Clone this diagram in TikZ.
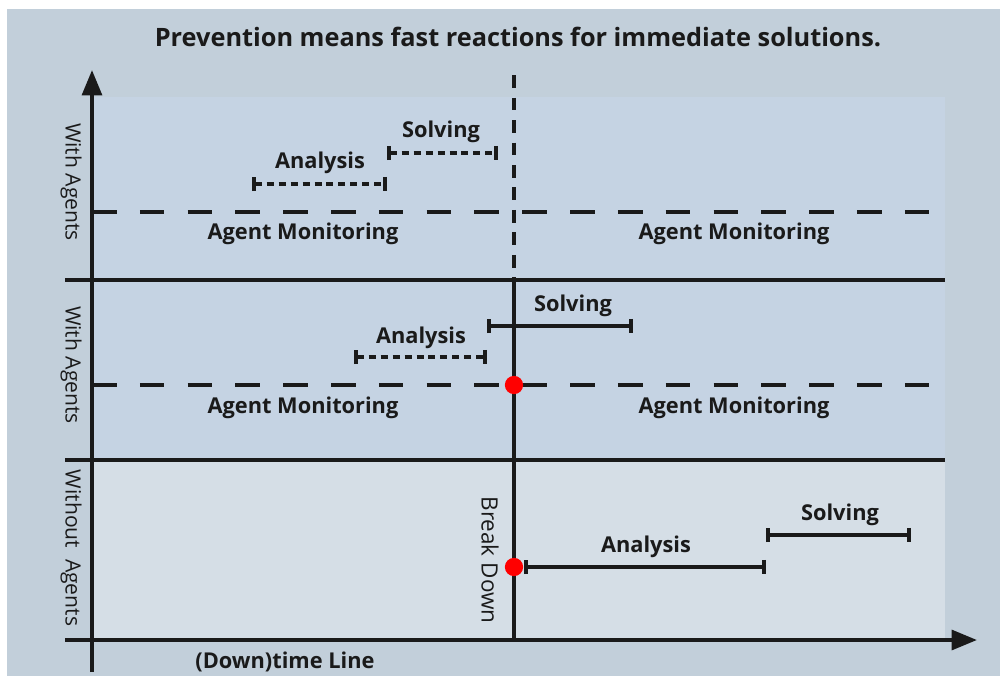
\documentclass[tikz,border=0pt]{standalone}
\usepackage{fontspec}
\setmainfont{Open Sans}
\usetikzlibrary{arrows.meta}
\definecolor{outerbg}{HTML}{C2CFDA}
\definecolor{bandblue}{HTML}{C5D3E3}
\definecolor{bandlight}{HTML}{D5DEE6}
\definecolor{inkline}{HTML}{1A1A1A}
\definecolor{brkred}{HTML}{FF0000}
\begin{document}
\begin{tikzpicture}[x=0.025cm,y=-0.025cm,
  axisline/.style={draw=inkline, line width=2.8pt, -{Triangle[length=18pt,width=14pt]}},
  sepline/.style={draw=inkline, line width=2.8pt},
  monitor/.style={draw=inkline, line width=2.8pt, dash pattern=on 17.5pt off 16.5pt},
  brkdash/.style={draw=inkline, line width=2.6pt, dash pattern=on 9pt off 7pt},
  dotbar/.style={draw=inkline, line width=2.3pt, dash pattern=on 5pt off 3.5pt,
    {Bar[width=10pt,line width=2.6pt]}-{Bar[width=10pt,line width=2.6pt]}},
  solidbar/.style={draw=inkline, line width=2.3pt,
    {Bar[width=10pt,line width=2.6pt]}-{Bar[width=10pt,line width=2.6pt]}},
  lbl/.style={text=inkline, font=\bfseries\fontsize{15.5}{17}\selectfont, inner sep=0pt},
  sidelbl/.style={text=inkline, font=\fontsize{15}{17}\selectfont, rotate=-90, inner sep=0pt},
  dot/.style={circle, fill=brkred, minimum size=13pt, inner sep=0pt}]
  \useasboundingbox (0,0) rectangle (1000,678);
  % backgrounds
  \fill[outerbg] (7,9) rectangle (1000,676);
  \fill[bandblue] (92,97) rectangle (945,460);
  \fill[bandlight] (92,460) rectangle (945,640);
  % axes
  \coordinate (ybot) at (92,672);
  \coordinate (ytop) at (92,70);
  \coordinate (xleft) at (65,640);
  \coordinate (xright) at (977,640);
  \draw[axisline] (ybot) -- (ytop);
  \draw[axisline] (xleft) -- (xright);
  % bands
  \coordinate (s1l) at (65,280);
  \coordinate (s1r) at (945,280);
  \coordinate (s2l) at (65,460);
  \coordinate (s2r) at (945,460);
  \draw[sepline] (s1l) -- (s1r);
  \draw[sepline] (s2l) -- (s2r);
  \coordinate (m1l) at (92,212);
  \coordinate (m1r) at (945,212);
  \coordinate (m2l) at (92,385);
  \coordinate (m2r) at (945,385);
  \draw[monitor] (m1l) -- (m1r);
  \draw[monitor] (m2l) -- (m2r);
  % break down line
  \coordinate (bdtop) at (514,75);
  \coordinate (bdmid) at (514,280);
  \coordinate (bdbot) at (514,640);
  \draw[brkdash] (bdtop) -- (bdmid);
  \draw[sepline] (bdmid) -- (bdbot);
  % bars
  \coordinate (a1s) at (252,184);
  \coordinate (a1e) at (387,184);
  \coordinate (v1s) at (387,153);
  \coordinate (v1e) at (498,153);
  \draw[dotbar] (a1s) -- (a1e);
  \draw[dotbar] (v1s) -- (v1e);
  \coordinate (a2s) at (354,357);
  \coordinate (a2e) at (487,357);
  \coordinate (v2s) at (487,326);
  \coordinate (v2e) at (633,326);
  \draw[dotbar] (a2s) -- (a2e);
  \draw[solidbar] (v2s) -- (v2e);
  \coordinate (a3s) at (524,567);
  \coordinate (a3e) at (766,567);
  \coordinate (v3s) at (766,535);
  \coordinate (v3e) at (911,535);
  \draw[solidbar] (a3s) -- (a3e);
  \draw[solidbar] (v3s) -- (v3e);
  \node[dot] (brk1) at (514,385) {};
  \node[dot] (brk2) at (514,567) {};
  % labels
  \node[text=inkline, font=\bfseries\fontsize{18}{20}\selectfont] (title) at (518,37) {Prevention means fast reactions for immediate solutions.};
  \node[lbl] (an1) at (320,163) {Analysis};
  \node[lbl] (so1) at (441,132) {Solving};
  \node[lbl] (an2) at (421,338) {Analysis};
  \node[lbl] (so2) at (573,306) {Solving};
  \node[lbl] (an3) at (646,547) {Analysis};
  \node[lbl] (so3) at (840,515) {Solving};
  \node[lbl] (mo1) at (303,234) {Agent Monitoring};
  \node[lbl] (mo2) at (734,234) {Agent Monitoring};
  \node[lbl] (mo3) at (303,408) {Agent Monitoring};
  \node[lbl] (mo4) at (734,408) {Agent Monitoring};
  \node[sidelbl] (wa1) at (71,182) {With Agents};
  \node[sidelbl] (wa2) at (71,365) {With Agents};
  \node[sidelbl] (woa) at (71,548) {Without~~Agents};
  \node[sidelbl, font=\fontsize{16}{18}\selectfont] (bdl) at (490,560) {Break Down};
  \node[lbl] (tl) at (285,662) {(Down)time Line};
\end{tikzpicture}
\end{document}
